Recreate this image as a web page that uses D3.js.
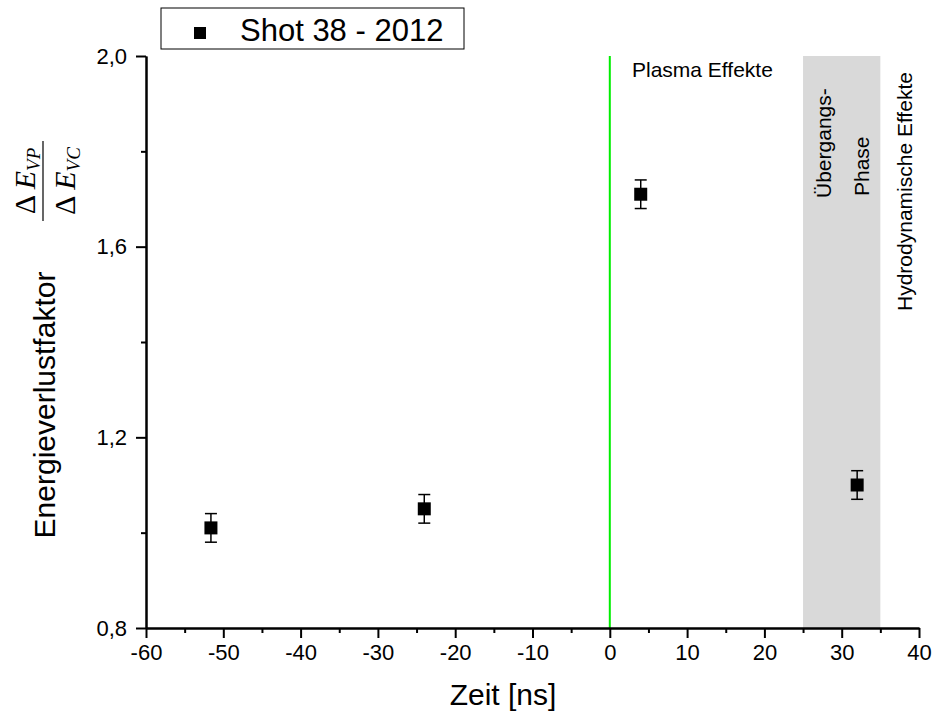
<!DOCTYPE html>
<html lang="de">
<head>
<meta charset="utf-8">
<title>Energieverlustfaktor</title>
<script src="https://d3js.org/d3.v7.min.js"></script>
<style>
  body { margin: 0; background: #fff; }
  svg text { font-family: "Liberation Sans", Arial, sans-serif; fill: #000; }
  .axis path, .axis line { stroke: #000; stroke-width: 2; }
  .axis text { font-size: 22px; }
</style>
</head>
<body>
<div id="chart"></div>
<script>
// data
var zeit = [-51.6, -24, 4, 32];
var faktor = [1.01, 1.05, 1.71, 1.10];
var fehler = [0.03, 0.03, 0.03, 0.03];
var xTicks = [-60, -50, -40, -30, -20, -10, 0, 10, 20, 30, 40];
var yTicks = [0.8, 1.2, 1.6, 2.0];
var xMinor = [-55, -45, -35, -25, -15, -5, 5, 15, 25, 35];
var yMinor = [1.0, 1.4, 1.8];
var band = [25, 35];
var grenze = 0;

var w = 935, h = 715;
var mLeft = 146, mRight = 919, mTop = 56, mBottom = 628;

var svg = d3.select("#chart").append("svg")
  .attr("width", w).attr("height", h);

var x = d3.scaleLinear().domain([-60, 40]).range([mLeft, mRight]);
var y = d3.scaleLinear().domain([0.8, 2.0]).range([mBottom, mTop]);

// grey band (Übergangs-Phase)
svg.append("rect")
  .attr("x", x(band[0])).attr("y", y(2.0))
  .attr("width", x(band[1]) - x(band[0]))
  .attr("height", y(0.8) - y(2.0))
  .attr("fill", "#d9d9d9");

// green line at t = 0
svg.append("line")
  .attr("x1", x(grenze)).attr("x2", x(grenze))
  .attr("y1", y(2.0)).attr("y2", y(0.8))
  .attr("stroke", "#00ee00").attr("stroke-width", 2);

var xFmt = function(d) { return String(d); };
var yFmt = function(d) { return d3.format(".1f")(d).replace(".", ","); };

svg.append("g").attr("class", "axis")
  .attr("transform", "translate(0," + mBottom + ")")
  .call(d3.axisBottom(x).tickValues(xMinor).tickSize(5).tickSizeOuter(0).tickFormat(""));
svg.append("g").attr("class", "axis")
  .attr("transform", "translate(0," + mBottom + ")")
  .call(d3.axisBottom(x).tickValues(xTicks).tickSize(10).tickSizeOuter(0).tickPadding(6).tickFormat(xFmt));

svg.append("g").attr("class", "axis")
  .attr("transform", "translate(" + mLeft + ",0)")
  .call(d3.axisLeft(y).tickValues(yMinor).tickSize(5).tickSizeOuter(0).tickFormat(""));
svg.append("g").attr("class", "axis")
  .attr("transform", "translate(" + mLeft + ",0)")
  .call(d3.axisLeft(y).tickValues(yTicks).tickSize(10).tickSizeOuter(0).tickPadding(9).tickFormat(yFmt));

// error bars
var pts = zeit.map(function(d, i) { return { x: d, y: faktor[i], e: fehler[i] }; });
var eb = svg.append("g").attr("stroke", "#000").attr("stroke-width", 1.5);
eb.selectAll(".v").data(pts).enter().append("line")
  .attr("x1", function(d) { return x(d.x); }).attr("x2", function(d) { return x(d.x); })
  .attr("y1", function(d) { return y(d.y + d.e); }).attr("y2", function(d) { return y(d.y - d.e); });
[1, -1].forEach(function(s) {
  eb.selectAll(".c" + s).data(pts).enter().append("line")
    .attr("x1", function(d) { return x(d.x) - 6; }).attr("x2", function(d) { return x(d.x) + 6; })
    .attr("y1", function(d) { return y(d.y + s * d.e); }).attr("y2", function(d) { return y(d.y + s * d.e); });
});
svg.selectAll(".pt").data(pts).enter().append("rect")
  .attr("x", function(d) { return x(d.x) - 6.5; })
  .attr("y", function(d) { return y(d.y) - 6.5; })
  .attr("width", 13).attr("height", 13).attr("fill", "#000");

// legend
svg.append("rect").attr("x", 161).attr("y", 8).attr("width", 303).attr("height", 41)
  .attr("fill", "#fff").attr("stroke", "#000").attr("stroke-width", 1);
svg.append("rect").attr("x", 194).attr("y", 27).attr("width", 12).attr("height", 12).attr("fill", "#000");
svg.append("text").attr("x", 240).attr("y", 41).style("font-size", "31px").text("Shot 38 - 2012");

// axis titles
svg.append("text").attr("x", 503).attr("y", 705)
  .attr("text-anchor", "middle").style("font-size", "30px").text("Zeit [ns]");
svg.append("text").attr("transform", "translate(55,405) rotate(-90)")
  .attr("text-anchor", "middle").style("font-size", "30px").text("Energieverlustfaktor");

// fraction ΔE_VP / ΔE_VC
var fr = svg.append("g").attr("transform", "translate(43,181) rotate(-90)");
fr.append("line").attr("x1", -40).attr("x2", 40).attr("y1", 0).attr("y2", 0)
  .attr("stroke", "#000").attr("stroke-width", 1.2);
[["VP", -8], ["VC", 32]].forEach(function(p) {
  var t = fr.append("text").attr("x", 0).attr("y", p[1]).attr("text-anchor", "middle")
    .style("font-family", "'Liberation Serif', 'Times New Roman', serif").style("font-size", "30px");
  t.append("tspan").text("\u0394 ");
  t.append("tspan").style("font-style", "italic").text("E");
  t.append("tspan").style("font-style", "italic").style("font-size", "19px").attr("dy", 5).text(p[0]);
});

// annotations
svg.append("text").attr("x", 632).attr("y", 77).style("font-size", "21px").text("Plasma Effekte");
svg.append("text").attr("transform", "translate(831,198) rotate(-90)").style("font-size", "21px").text("Übergangs-");
svg.append("text").attr("transform", "translate(869,196) rotate(-90)").style("font-size", "21px").text("Phase");
svg.append("text").attr("transform", "translate(912,311) rotate(-90)").style("font-size", "21px").text("Hydrodynamische Effekte");
</script>
</body>
</html>
